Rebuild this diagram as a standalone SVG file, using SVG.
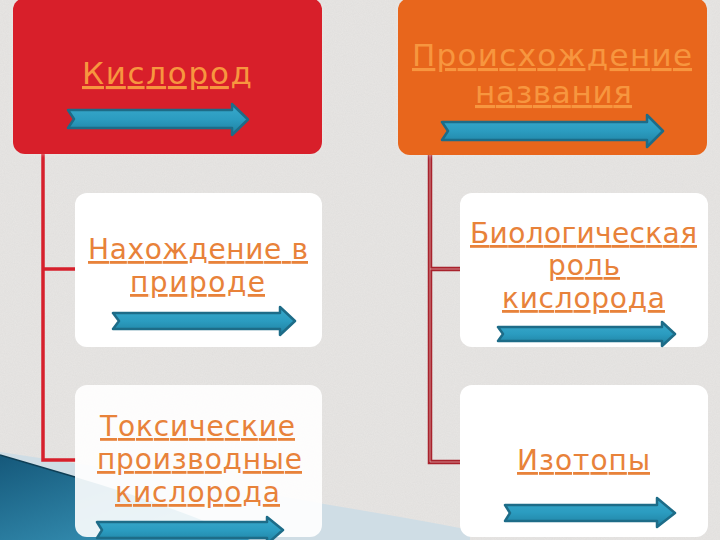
<svg xmlns="http://www.w3.org/2000/svg" width="720" height="540" viewBox="0 0 720 540">
<defs>
<style>
.t{font-family:"DejaVu Sans","Liberation Sans",sans-serif;font-size:28px;text-decoration:underline}
.hd{font-size:31px;fill:#f7963f}
.wt{fill:#e8823a}
.box{stroke:none}
.arr{fill:url(#ag);stroke:#1d6c88;stroke-width:2.5;stroke-linejoin:round}
.cl{fill:none}
</style>
<linearGradient id="ag" x1="0" y1="0" x2="0" y2="1">
<stop offset="0" stop-color="#3aa9cc"/>
<stop offset="0.5" stop-color="#2b9cc0"/>
<stop offset="1" stop-color="#1f7f9f"/>
</linearGradient>
<linearGradient id="tg" x1="0" y1="0" x2="1" y2="1">
<stop offset="0" stop-color="#15587a"/>
<stop offset="1" stop-color="#3fa0c4"/>
</linearGradient>
<filter id="noise" x="0" y="0" width="100%" height="100%">
<feTurbulence type="fractalNoise" baseFrequency="0.9" numOctaves="2" seed="3"/>
<feColorMatrix type="matrix" values="0 0 0 0 0.5  0 0 0 0 0.5  0 0 0 0 0.5  0 0 0 0.35 0"/>
</filter>
<filter id="glow" x="-10%" y="-10%" width="120%" height="120%">
<feGaussianBlur stdDeviation="2"/>
</filter>
</defs>
<rect width="720" height="540" fill="#e8e6e4"/>
<rect width="720" height="540" filter="url(#noise)" opacity="0.5"/>
<g id="decoration">
<path d="M0,452 Q200,482 330,505 Q420,520 470,530 L470,540 L0,540 Z" fill="#cfdde5"/>
<path d="M0,455 L75,477 Q170,505 250,540 L0,540 Z" fill="url(#tg)"/>
<path d="M0,455 L75,477" stroke="#0e3e55" stroke-width="1.5"/>
</g>
<g id="connectors">
<path class="cl" stroke="#d6202c" stroke-width="3.5" d="M43,153 V460 H76 M43,269 H76"/>
<path class="cl" stroke="#a8222c" stroke-width="4.5" d="M430,153 V462 H460 M430,269 H460"/>
<path class="cl" stroke="#f0d0d0" stroke-width="1" opacity="0.6" d="M430,153 V462 H460 M430,269 H460"/>
</g>
<g id="n-kislorod">
<rect x="13" y="-2" width="309" height="156" rx="13" fill="#f2ecea" filter="url(#glow)" opacity="0.6"/>
<rect class="box" x="13" y="-2" width="309" height="156" rx="12" fill="#d81f2a"/>
<text class="t hd" x="82" y="84" textLength="170" lengthAdjust="spacing">Кислород</text>
<polygon class="arr" points="68,110 232,110 232,104 248,119.5 232,135 232,128 68,128 74,119"/>
</g>
<g id="n-proiskhozhdenie">
<rect x="398" y="-2" width="309" height="157" rx="13" fill="#f2ecea" filter="url(#glow)" opacity="0.6"/>
<rect class="box" x="398" y="-2" width="309" height="157" rx="12" fill="#e8661c"/>
<text class="t hd" x="412" y="66" textLength="280" lengthAdjust="spacing">Происхождение</text>
<text class="t hd" x="475" y="103" textLength="157" lengthAdjust="spacing">названия</text>
<polygon class="arr" points="442,122 647,122 647,115 663,131 647,147 647,140 442,140 448,131"/>
</g>
<g id="n-nakhozhdenie">
<rect class="box" x="75" y="193" width="247" height="154" rx="12" fill="#ffffff"/>
<text class="t wt" x="88" y="259" textLength="220" lengthAdjust="spacing">Нахождение в</text>
<text class="t wt" x="130" y="292" textLength="135" lengthAdjust="spacing">природе</text>
<polygon class="arr" points="113,313 280,313 280,307 295,321 280,335 280,329 113,329 119,321"/>
</g>
<g id="n-biologicheskaya">
<rect class="box" x="460" y="193" width="248" height="154" rx="12" fill="#ffffff"/>
<text class="t wt" x="470" y="243" textLength="227" lengthAdjust="spacing">Биологическая</text>
<text class="t wt" x="548" y="275" textLength="72" lengthAdjust="spacing">роль</text>
<text class="t wt" x="502" y="308" textLength="163" lengthAdjust="spacing">кислорода</text>
<polygon class="arr" points="498,327 662,327 662,322 675,334 662,346 662,341 498,341 503,334"/>
</g>
<g id="n-toksicheskie">
<rect class="box" x="75" y="385" width="247" height="152" rx="12" fill="#ffffff" opacity="0.9"/>
<text class="t wt" x="100" y="436" textLength="195" lengthAdjust="spacing">Токсические</text>
<text class="t wt" x="97" y="469" textLength="205" lengthAdjust="spacing">производные</text>
<text class="t wt" x="115" y="502" textLength="165" lengthAdjust="spacing">кислорода</text>
<polygon class="arr" points="97,522 267,522 267,517 283,530 267,544 267,538 97,538 102,530"/>
</g>
<g id="n-izotopy">
<rect class="box" x="460" y="385" width="248" height="152" rx="12" fill="#ffffff"/>
<text class="t wt" x="517" y="470" textLength="133" lengthAdjust="spacing">Изотопы</text>
<polygon class="arr" points="505,505 657,505 657,498 675,513 657,527 657,521 505,521 510,513"/>
</g>
</svg>
